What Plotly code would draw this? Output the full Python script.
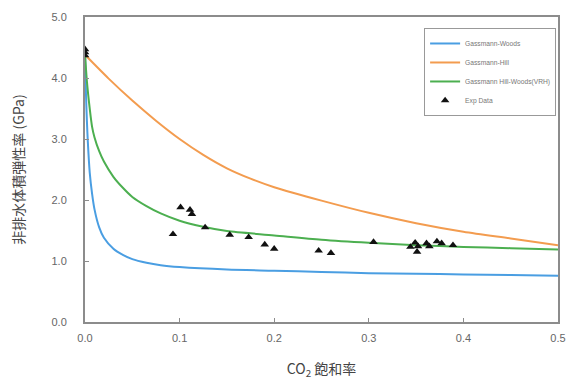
import plotly.graph_objects as go

# Gassmann-Woods (blue)
woods_x = [0, 0.001, 0.002, 0.003, 0.005, 0.0075, 0.01, 0.015, 0.02, 0.03, 0.04, 0.05,
           0.065, 0.08, 0.1, 0.15, 0.2, 0.25, 0.3, 0.35, 0.4, 0.45, 0.5]
woods_y = [4.4, 3.75, 3.3, 2.95, 2.45, 2.1, 1.85, 1.55, 1.38, 1.2, 1.1, 1.03,
           0.97, 0.93, 0.9, 0.86, 0.84, 0.82, 0.80, 0.79, 0.78, 0.77, 0.76]

# Gassmann-Hill (orange)
hill_x = [0, 0.025, 0.05, 0.075, 0.1, 0.125, 0.15, 0.175, 0.2, 0.25, 0.3, 0.35, 0.4, 0.45, 0.5]
hill_y = [4.38, 3.99, 3.63, 3.30, 3.00, 2.74, 2.52, 2.35, 2.21, 1.99, 1.79, 1.62, 1.48, 1.37, 1.26]

# Gassmann Hill-Woods (VRH) (green)
vrh_x = [0, 0.002, 0.005, 0.0075, 0.01, 0.015, 0.02, 0.03, 0.04, 0.05, 0.065, 0.08,
         0.1, 0.125, 0.15, 0.2, 0.25, 0.3, 0.35, 0.4, 0.45, 0.5]
vrh_y = [4.4, 3.95, 3.5, 3.2, 3.03, 2.8, 2.63, 2.38, 2.2, 2.05, 1.90, 1.78,
         1.66, 1.56, 1.49, 1.42, 1.35, 1.30, 1.26, 1.23, 1.21, 1.19]

# Experimental data
exp_x = [0, 0, 0, 0.093, 0.101, 0.111, 0.113, 0.127, 0.153, 0.173, 0.190, 0.200,
         0.247, 0.260, 0.305, 0.344, 0.349, 0.351, 0.352, 0.361, 0.364, 0.372, 0.377, 0.389]
exp_y = [4.47, 4.42, 4.37, 1.44, 1.88, 1.84, 1.77, 1.55, 1.43, 1.39, 1.27, 1.20,
         1.17, 1.13, 1.31, 1.23, 1.30, 1.15, 1.24, 1.29, 1.24, 1.32, 1.29, 1.26]

x_ticks = [0, 0.1, 0.2, 0.3, 0.4, 0.5]
x_ticklabels = ["0.0", "0.1", "0.2", "0.3", "0.4", "0.5"]
y_ticks = [0, 1, 2, 3, 4, 5]
y_ticklabels = ["0.0", "1.0", "2.0", "3.0", "4.0", "5.0"]

fig = go.Figure()
fig.add_trace(go.Scatter(x=woods_x, y=woods_y, mode="lines", name="Gassmann-Woods",
                         line=dict(color="#4A9EE2", width=2, shape="spline", smoothing=0.8)))
fig.add_trace(go.Scatter(x=hill_x, y=hill_y, mode="lines", name="Gassmann-Hill",
                         line=dict(color="#F39C4F", width=2, shape="spline", smoothing=0.8)))
fig.add_trace(go.Scatter(x=vrh_x, y=vrh_y, mode="lines", name="Gassmann Hill-Woods(VRH)",
                         line=dict(color="#4CAF50", width=2, shape="spline", smoothing=0.8)))
fig.add_trace(go.Scatter(x=exp_x, y=exp_y, mode="markers", name="Exp Data",
                         marker=dict(symbol="triangle-up", color="#111111", size=7.5)))

axis_common = dict(
    showline=True, linecolor="#8c8c8c", linewidth=2, mirror=True,
    ticks="inside", ticklen=4, tickcolor="#8c8c8c", tickwidth=1,
    showgrid=False, zeroline=False, automargin=False,
    tickfont=dict(family="Liberation Sans, Arial", size=11, color="#666666"),
)

fig.update_layout(
    width=569, height=381,
    margin=dict(l=85, r=11, t=17, b=59),
    plot_bgcolor="white", paper_bgcolor="white",
    font=dict(family="Noto Sans CJK JP, Liberation Sans", color="#444444"),
    xaxis=dict(range=[0, 0.5], tickvals=x_ticks, ticktext=x_ticklabels, ticklabelstandoff=5,
               title=dict(text="CO<sub>2</sub> 飽和率", font=dict(size=14, color="#444444"), standoff=21),
               **axis_common),
    yaxis=dict(range=[0, 5], tickvals=y_ticks, ticktext=y_ticklabels, ticklabelstandoff=14,
               title=dict(text="非排水体積弾性率 (GPa)", font=dict(size=14, color="#444444"), standoff=24),
               **axis_common),
    legend=dict(x=0.996, y=0.964, xanchor="right", yanchor="top",
                bgcolor="white", bordercolor="#999999", borderwidth=1,
                font=dict(family="Liberation Sans, Arial", size=6.7, color="#777777"),
                tracegroupgap=3, itemwidth=30),
    showlegend=True,
)

# remove the default page margin so the figure fills the 569x381 window exactly
fig.write_html("out.html",
               config={"displayModeBar": False},
               post_script="document.body.style.margin='0';document.body.style.overflow='hidden';")
